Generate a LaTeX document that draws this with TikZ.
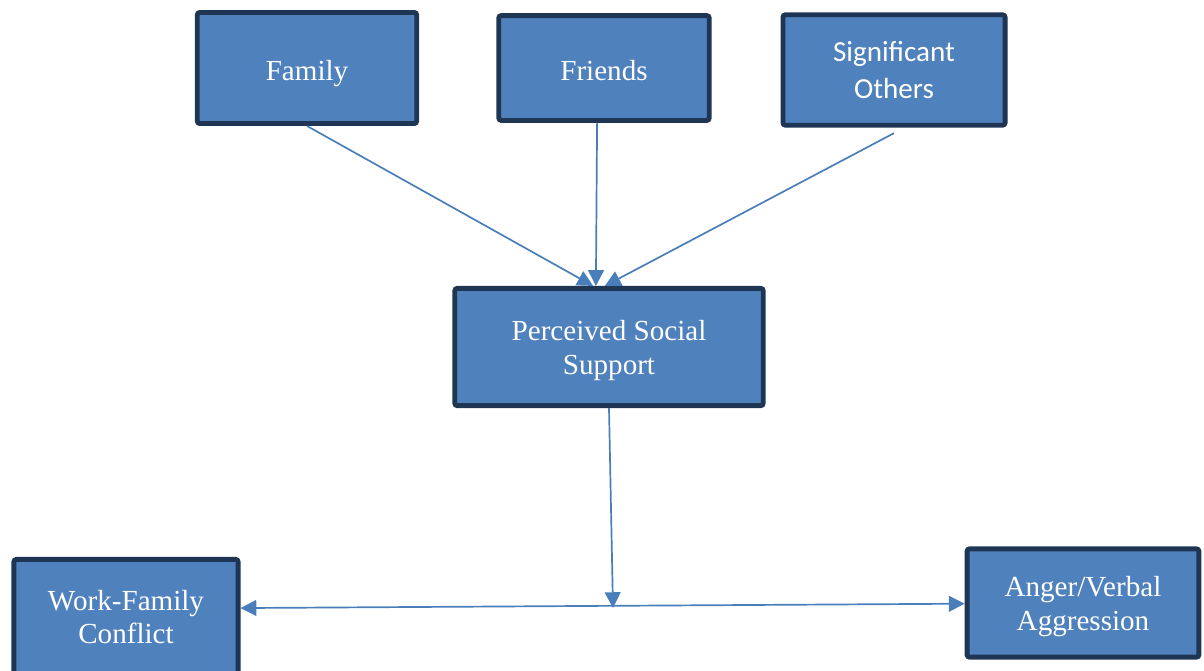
\documentclass[tikz,border=0pt]{standalone}
\usepackage{fontspec}
\setmainfont{Liberation Serif}
\newfontfamily\calibri{Carlito}
\usetikzlibrary{arrows.meta,positioning}
\definecolor{boxblue}{RGB}{79,129,189}
\definecolor{navy}{RGB}{31,53,84}
\definecolor{lineblue}{RGB}{74,126,187}

\begin{document}
\begin{tikzpicture}[x=0.0145cm, y=0.0145cm,
            box/.style={rectangle, draw=navy, fill=boxblue, line width=2pt, rounded corners=1pt, align=center, text=white, font=\fontsize{12}{13.8}\selectfont},
            arrow/.style={-{Triangle[length=6.5pt,width=6.5pt]}, line width=0.7pt, lineblue}
        ]
        \useasboundingbox (0,0) rectangle (1204,-670);
        \node[box, minimum width=3.18cm, minimum height=1.61cm, text height=13pt, text depth=2.6pt] (fam) at (307,-68) {Family};
        \node[box, minimum width=3.05cm, minimum height=1.52cm, text height=10pt, text depth=0pt] (fri) at (604,-68) {Friends};
        \node[box, minimum width=3.22cm, minimum height=1.60cm, font=\calibri\fontsize{12}{15.5}\selectfont] (sig) at (894,-70) {Significant\\Others};
        \node[box, minimum width=4.47cm, minimum height=1.70cm, text height=25pt] (pss) at (609,-347) {Perceived Social\\Support};
        \node[box, minimum width=3.25cm, minimum height=1.67cm] (wfc) at (126,-617) {Work-Family\\Conflict};
        \node[box, minimum width=3.36cm, minimum height=1.57cm, text height=25pt] (ang) at (1083,-603) {Anger/Verbal\\Aggression};
        \coordinate (mod) at (613,-608);

        \draw[arrow] (fam.south) -- ([xshift=-0.23cm]pss.north);
        \draw[arrow] ([xshift=-0.1cm]fri.south) -- ([xshift=-0.19cm]pss.north);
        \draw[arrow] ([yshift=-0.08cm]sig.south) -- ([xshift=-0.06cm]pss.north);
        \draw[arrow] (pss.south) -- (mod);
        \draw[arrow, {Triangle[length=6.5pt,width=6.5pt]}-{Triangle[length=6.5pt,width=6.5pt]}] ([yshift=0.13cm]wfc.east) -- ([yshift=-0.01cm]ang.west);
\end{tikzpicture}
\end{document}
